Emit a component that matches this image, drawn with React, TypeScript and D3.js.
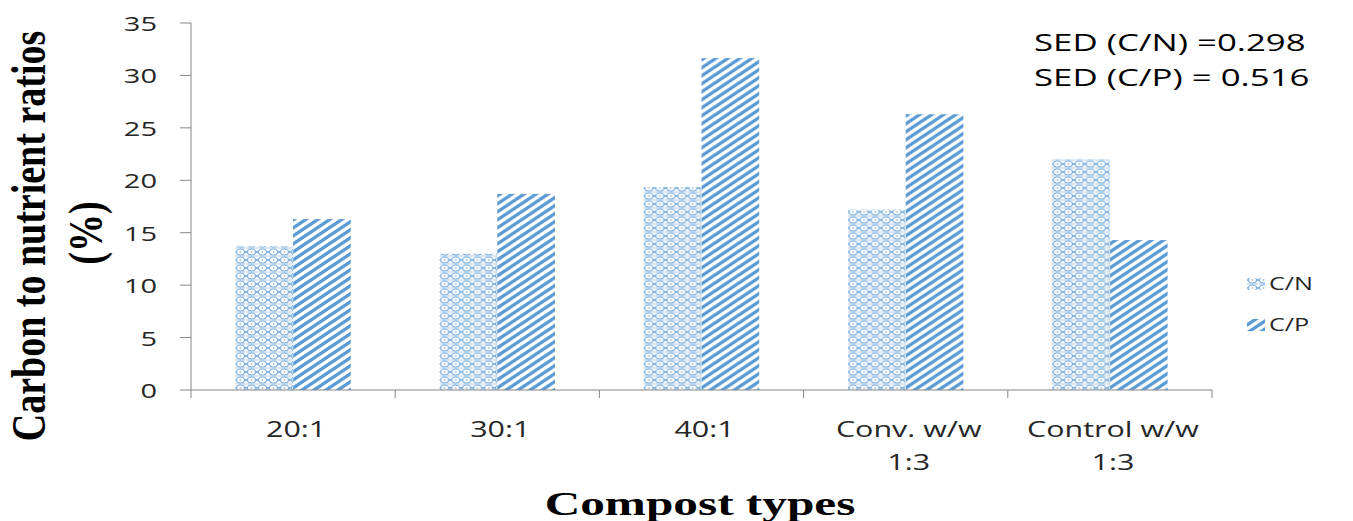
import React from "react";
import * as d3 from "d3";

const categories = ["20:1", "30:1", "40:1", "Conv. w/w\n1:3", "Control w/w\n1:3"];
const seriesNames = ["C/N", "C/P"];
const cnValues = [13.7, 13.0, 19.35, 17.2, 22.0];
const cpValues = [16.3, 18.7, 31.65, 26.3, 14.3];
const yTicks = [0, 5, 10, 15, 20, 25, 30, 35];
const notes = ["SED (C/N) =0.298", "SED (C/P) = 0.516"];

const W = 1353, H = 521;
const left = 191, right = 1212, top = 23, bottom = 390;
const blue = "#5b9bd5";
const SX = 1.45;
const sansFont = "'Open Sans', 'Liberation Sans', sans-serif";
const serifFont = "'Liberation Serif', 'DejaVu Serif', serif";

export default function App() {
  const x = d3.scaleBand<string>().domain(categories).range([left, right]).paddingInner(0).paddingOuter(0);
  const xs = d3.scaleBand<string>().domain(seriesNames).range([0, x.bandwidth()]).paddingInner(0).paddingOuter(0.77);
  const y = d3.scaleLinear().domain([0, 35]).range([bottom, top]);
  const series = [cnValues, cpValues];
  const fills = ["url(#patCN)", "url(#patCP)"];

  return (
    <svg width={W} height={H} style={{ position: "absolute", left: 0, top: 0, background: "#fff" }}>
      <defs>
        <pattern id="patCN" patternUnits="userSpaceOnUse" width="11" height="8">
          <rect width="11" height="8" fill="#fff" />
          <ellipse cx="5.5" cy="4" rx="4" ry="3" fill="none" stroke={blue} strokeWidth="1.1" opacity="0.8" />
          <path d="M0,0 L11,0 M0,8 L11,8" stroke={blue} strokeWidth="1" opacity="0.5" />
          <circle cx="0" cy="4" r="1.3" fill={blue} opacity="0.7" />
          <circle cx="11" cy="4" r="1.3" fill={blue} opacity="0.7" />
          <circle cx="5.5" cy="4" r="1" fill={blue} opacity="0.6" />
        </pattern>
        <pattern id="patCP" patternUnits="userSpaceOnUse" width="12" height="8">
          <rect width="12" height="8" fill="#fff" />
          <path d="M-6,4 L6,-4 M0,8 L12,0 M6,12 L18,4" stroke={blue} strokeWidth="3.3" />
        </pattern>
      </defs>

      {/* bars */}
      {categories.map((c, i) => (
        <g key={c} transform={`translate(${x(c)},0)`}>
          {seriesNames.map((s, j) => (
            <rect key={s} x={xs(s)} y={y(series[j][i])} width={xs.bandwidth()} height={y(0) - y(series[j][i])} fill={fills[j]} />
          ))}
        </g>
      ))}

      {/* y axis */}
      <line x1={left} x2={left} y1={top} y2={bottom} stroke="#868686" strokeWidth="1" />
      {yTicks.map(t => (
        <g key={t}>
          <line x1={left - 11} x2={left} y1={y(t)} y2={y(t)} stroke="#868686" />
          <text transform={`translate(${left - 34},${y(t) + 1}) scale(${SX},1)`} dy="0.35em" textAnchor="end" fontFamily={sansFont} fontSize="20" fill="#262626">{t}</text>
        </g>
      ))}
      {/* x axis */}
      <line x1={left} x2={right} y1={bottom} y2={bottom} stroke="#868686" />
      {categories.map((c, i) => (
        <line key={"t" + i} x1={x(c)} x2={x(c)} y1={bottom} y2={bottom + 8} stroke="#868686" />
      ))}
      <line x1={right} x2={right} y1={bottom} y2={bottom + 8} stroke="#868686" />
      {categories.map(c => (
        c.split("\n").map((ln, k) => (
          <text key={"l" + c + k} transform={`translate(${(x(c) as number) + x.bandwidth() / 2 + 3},${437 + k * 33}) scale(${SX},1)`} textAnchor="middle" fontFamily={sansFont} fontSize="21" fill="#262626">{ln}</text>
        ))
      ))}

      {/* axis titles */}
      <text transform="translate(45,236) rotate(-90) scale(1,1.25)" textAnchor="middle" fontFamily={serifFont} fontWeight="bold" fontSize="38" fill="#000">Carbon to nutrient ratios</text>
      <text transform="translate(102,233) rotate(-90) scale(1,1.25)" textAnchor="middle" fontFamily={serifFont} fontWeight="bold" fontSize="38" fill="#000">(%)</text>
      <text transform={`translate(700,515) scale(${SX},1)`} textAnchor="middle" fontFamily={serifFont} fontWeight="bold" fontSize="34" fill="#000">Compost types</text>

      {/* notes */}
      {notes.map((n, i) => (
        <text key={n} transform={`translate(1034,${51 + i * 35}) scale(${SX},1)`} fontFamily={sansFont} fontSize="24" fill="#000">{n}</text>
      ))}

      {/* legend */}
      {seriesNames.map((s, i) => (
        <g key={s} transform={`translate(1247,${284 + i * 41})`}>
          <rect x={0} y={-6} width={18} height={12} fill={fills[i]} />
          <text transform={`translate(22,0) scale(1.4,1)`} dy="0.35em" fontFamily={sansFont} fontSize="18" fill="#262626">{s}</text>
        </g>
      ))}
    </svg>
  );
}
